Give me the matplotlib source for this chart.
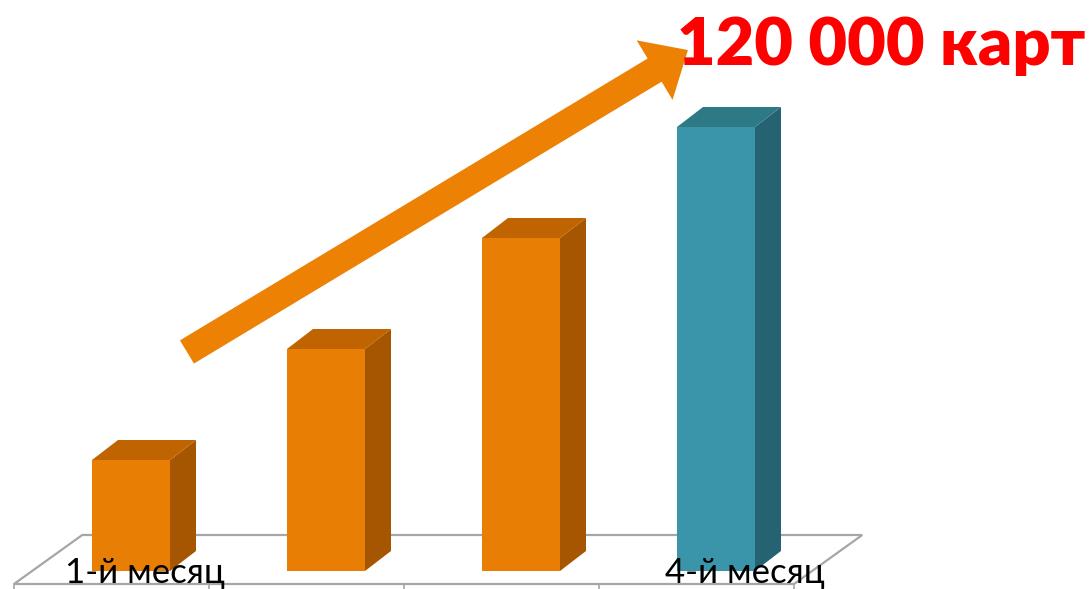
import numpy as np
import matplotlib.pyplot as plt
from matplotlib.patches import Polygon

# data
months = ['1-й месяц', '', '', '4-й месяц']
cards = [30000, 60000, 90000, 120000]
title = '120 000 карт'

front_cols = ['#E87E04', '#E87E04', '#E87E04', '#3A95AB']
top_cols = ['#BF6400', '#BF6400', '#BF6400', '#2E7986']
side_cols = ['#A65600', '#A65600', '#A65600', '#256373']
label_shift = [0.07, 0, 0, 0.15]

W, H = 1091, 589
fig = plt.figure(figsize=(W / 100, H / 100), dpi=100)
ax = fig.add_axes([0, 0, 1, 1])
ax.axis('off')

# pixel scale: one category = 195 px, 30000 cards = 111 px
px_x = 195.0
px_y = 111.0 / 30000
x0_px, base_px = 131, 571
ax.set_xlim(-x0_px / px_x, (W - x0_px) / px_x)
ax.set_ylim((base_px - H) / px_y, base_px / px_y)

bw = 0.4
dx, dy = 26 / px_x, 20 / px_y
xs = np.arange(len(cards))

# floor
fdx, fdy = 0.35, 49 / px_y
f_left, f_right, f_y = -0.6, 3.4, -13 / px_y
floor = [(f_left, f_y), (f_right, f_y), (f_right + fdx, f_y + fdy), (f_left + fdx, f_y + fdy)]
ax.add_patch(Polygon(floor, closed=True, fill=False, edgecolor='#A6A6A6', lw=1.6, zorder=1))
for t in np.arange(f_left, f_right + 0.01, 1.0):
    ax.plot([t, t], [f_y, f_y - 6 / px_y], color='#A6A6A6', lw=1.2, zorder=1)

# bars
ax.bar(xs, cards, width=bw, color=front_cols, zorder=3)
for x, v, tc, sc in zip(xs, cards, top_cols, side_cols):
    r, l = x + bw / 2, x - bw / 2
    side = [(r, 0), (r + dx, dy), (r + dx, v + dy), (r, v)]
    top = [(l, v), (r, v), (r + dx, v + dy), (l + dx, v + dy)]
    ax.add_patch(Polygon(side, closed=True, color=sc, lw=0, zorder=2))
    ax.add_patch(Polygon(top, closed=True, color=tc, lw=0, zorder=2))

# month labels
for x, lab, s in zip(xs, months, label_shift):
    if lab:
        ax.text(x + s, -12 / px_y, lab, ha='center', va='baseline', fontsize=25,
                family=['Lato', 'DejaVu Sans'], color='black', zorder=5)

# growth arrow
tail = (0.287, 59200)
tip = (2.856, 140800)
ax.annotate('', xy=tip, xytext=tail,
            arrowprops=dict(arrowstyle='simple,head_length=28,head_width=50,tail_width=19.5',
                            mutation_scale=1, color='#EC8104', lw=0,
                            shrinkA=0, shrinkB=0), zorder=4)

fig.text(1085 / W, 1 - 65 / H, title, ha='right', va='baseline', fontsize=48,
         fontweight='heavy', color='#FF0000', family=['Lato', 'DejaVu Sans'])

fig.savefig('out.png', dpi=100)
